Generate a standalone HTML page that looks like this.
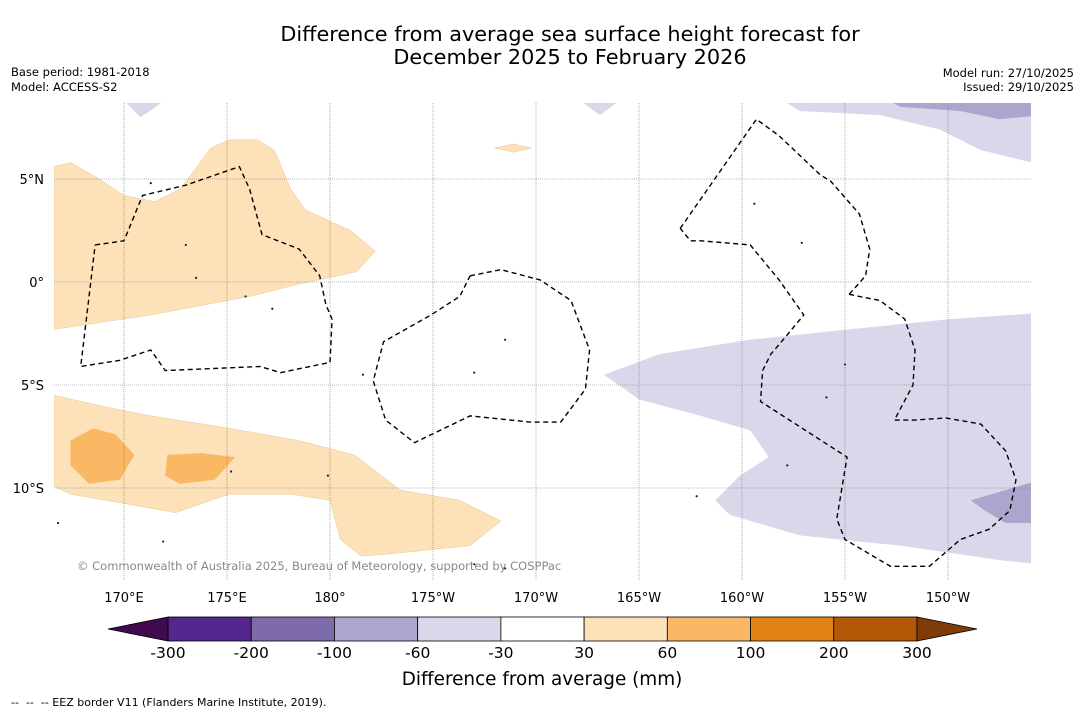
<!DOCTYPE html>
<html><head><meta charset="utf-8"><style>
body{margin:0;background:#fff;font-family:"Liberation Sans","DejaVu Sans",sans-serif;}
svg{display:block}
</style></head><body>
<svg id="chart" width="1085" height="713" viewBox="0 0 1085 713" xmlns="http://www.w3.org/2000/svg" font-family="DejaVu Sans, Liberation Sans, sans-serif">
<text x="570" y="41" font-size="20.8" text-anchor="middle">Difference from average sea surface height forecast for</text>
<text x="570" y="64" font-size="20.8" text-anchor="middle">December 2025 to February 2026</text>
<text x="11" y="76" font-size="11.5">Base period: 1981-2018</text>
<text x="11" y="91" font-size="11.5">Model: ACCESS-S2</text>
<text x="1074" y="77" font-size="11.5" text-anchor="end">Model run: 27/10/2025</text>
<text x="1074" y="91" font-size="11.5" text-anchor="end">Issued: 29/10/2025</text>
<defs><clipPath id="mapclip"><rect x="54" y="103" width="977" height="477"/></clipPath></defs>
<g id="map" clip-path="url(#mapclip)"></g>
<g id="grid"></g>
<g id="eez" clip-path="url(#mapclip)"></g>
<text x="77" y="570" font-size="11.5" fill="#888">© Commonwealth of Australia 2025, Bureau of Meteorology, supported by COSPPac</text>
<g id="cbar"></g>
<text x="542" y="685" font-size="18.4" text-anchor="middle">Difference from average (mm)</text>
<text x="11" y="706" font-size="11" xml:space="preserve" style="white-space:pre">--  --  -- EEZ border V11 (Flanders Marine Institute, 2019).</text>
</svg>
<script>
const lonTicks=[170,175,180,185,190,195,200,205,210];
const lonLabels=["170°E","175°E","180°","175°W","170°W","165°W","160°W","155°W","150°W"];
const latTicks=[5,0,-5,-10];
const latLabels=["5°N","0°","5°S","10°S"];
const cbarTicks=["-300","-200","-100","-60","-30","30","60","100","200","300"];
const cbarColors=["#54278f","#7d6ca9","#aca6cf","#d8d8ea","#ffffff","#fde1b8","#fbb864","#e08214","#b35806"];
const cbarExt=["#3f0a4e","#7f3b08"];
const anomalyRegions=[
 ["#fde1b8",[[166.6,5.6],[167.4,5.8],[168.8,5.0],[170.0,4.2],[171.5,3.9],[172.7,4.5],[173.4,5.4],[174.2,6.5],[175.1,6.9],[176.5,6.9],[177.3,6.4],[178.1,4.5],[178.8,3.5],[181.0,2.5],[182.2,1.5],[181.3,0.5],[178.5,-0.1],[176.1,-0.7],[171.3,-1.6],[166.6,-2.3]]],
 ["#fde1b8",[[188.0,6.5],[188.9,6.7],[189.8,6.5],[188.9,6.3]]],
 ["#fde1b8",[[166.6,-5.5],[168.8,-6.0],[171.3,-6.5],[175.1,-7.1],[178.5,-7.7],[181.2,-8.4],[183.4,-10.1],[186.3,-10.6],[188.3,-11.6],[186.8,-12.8],[182.9,-13.2],[181.5,-13.3],[180.5,-12.5],[180.0,-10.6],[178.1,-10.3],[175.1,-10.3],[172.5,-11.2],[170.3,-10.8],[167.4,-10.3],[166.6,-9.9]]],
 ["#fbb864",[[167.4,-7.7],[168.5,-7.1],[169.6,-7.4],[170.5,-8.4],[169.8,-9.6],[168.3,-9.8],[167.4,-8.9]]],
 ["#fbb864",[[172.1,-8.4],[173.7,-8.3],[175.4,-8.5],[174.4,-9.6],[172.7,-9.8],[172.0,-9.4]]],
 ["#d8d8ea",[[193.3,-4.5],[196.0,-3.5],[200.4,-2.8],[205.2,-2.3],[210.1,-1.8],[214.5,-1.5],[214.5,-13.7],[212.5,-13.5],[207.7,-12.8],[202.8,-12.3],[199.4,-11.3],[198.7,-10.6],[199.9,-9.4],[201.3,-8.5],[200.4,-7.2],[198.0,-6.5],[195.0,-5.7]]],
 ["#aca6cf",[[211.1,-10.6],[214.5,-9.6],[214.5,-11.7],[212.8,-11.7],[211.8,-11.1]]],
 ["#d8d8ea",[[200.9,9.5],[214.5,9.5],[214.5,5.7],[211.6,6.4],[209.6,7.4],[206.7,8.1],[202.8,8.3]]],
 ["#aca6cf",[[205.7,9.5],[214.5,9.5],[214.5,8.1],[212.5,7.9],[210.6,8.3],[207.7,8.5]]],
 ["#d8d8ea",[[191.2,9.5],[195.0,9.5],[193.1,8.1]]],
 ["#d8d8ea",[[169.3,9.5],[173.0,9.5],[170.8,8.0]]],
 ["#d8d8ea",[[204.0,-10.5],[206.0,-10.5],[205.0,-10.7]]]
];
const eezLines=[
 [[168.6,1.8],[170.0,2.0],[170.9,4.2],[173.0,4.7],[175.6,5.6],[176.1,4.5],[176.7,2.3],[178.5,1.6],[179.5,0.3],[179.8,-1.1],[180.1,-1.8],[180.0,-3.9],[177.6,-4.4],[176.6,-4.1],[172.0,-4.3],[171.3,-3.3],[169.8,-3.8],[167.9,-4.1],[168.6,1.8]],
 [[186.8,0.3],[188.3,0.6],[190.2,0.1],[191.7,-0.9],[192.6,-3.3],[192.4,-5.2],[191.2,-6.8],[189.7,-6.8],[186.8,-6.5],[184.1,-7.8],[182.7,-6.7],[182.1,-4.8],[182.6,-2.9],[184.9,-1.6],[186.3,-0.7],[186.8,0.3]],
 [[197.0,2.6],[200.7,7.9],[201.8,7.1],[203.8,5.2],[204.3,4.9],[205.7,3.3],[206.2,1.6],[206.0,0.3],[205.2,-0.6]],
 [[205.2,-0.6],[206.7,-0.9],[207.9,-1.8],[208.4,-3.3],[208.3,-5.0],[207.4,-6.7],[208.4,-6.7],[209.9,-6.6],[211.6,-6.9],[212.8,-8.2],[213.3,-9.6],[213.0,-11.1],[212.0,-12.0],[210.6,-12.5],[209.1,-13.8],[207.2,-13.8],[205.0,-12.5],[204.6,-11.5],[205.1,-8.5],[200.9,-5.8],[201.0,-4.3],[201.4,-3.5],[202.0,-2.8],[203.0,-1.6],[201.8,0.1],[200.4,1.8],[198.0,2.0],[197.5,2.0],[197.0,2.6]]
];
const islands=[[171.3,4.8],[173.0,1.8],[173.5,0.2],[175.9,-0.7],[177.2,-1.3],[181.6,-4.5],[188.5,-2.8],[187.0,-4.4],[175.2,-9.2],[179.9,-9.4],[187.0,-13.7],[188.5,-13.9],[200.6,3.8],[202.9,1.9],[204.1,-5.6],[205.0,-4.0],[202.2,-8.9],[197.8,-10.4],[166.8,-11.7],[171.9,-12.6]];
const NS="http://www.w3.org/2000/svg";
const X=lon=>124+(lon-170)*20.6, Y=lat=>282-lat*20.6;
function mk(tag,attrs,parent){const e=document.createElementNS(NS,tag);for(const k in attrs)e.setAttribute(k,attrs[k]);parent.appendChild(e);return e;}
const map=document.getElementById('map'),grid=document.getElementById('grid'),eez=document.getElementById('eez'),cb=document.getElementById('cbar');
anomalyRegions.forEach(r=>{const p=mk('polygon',{points:r[1].map(q=>X(q[0])+','+Y(q[1])).join(' '),fill:r[0],stroke:r[0]=="#fde1b8"?"#e8c79a":"none","stroke-width":0.5},map);

});
islands.forEach(q=>{const c=mk('circle',{cx:X(q[0]),cy:Y(q[1]),r:1.1,fill:'#222'},map);

});
lonTicks.forEach((l,i)=>{const g=mk('line',{x1:X(l),x2:X(l),y1:103,y2:580,stroke:'#777','stroke-width':0.6,'stroke-dasharray':'1,1'},grid);


const t=mk('text',{x:X(l),y:602,'font-size':13,'text-anchor':'middle'},grid);t.textContent=lonLabels[i];

});
latTicks.forEach((l,i)=>{const g=mk('line',{x1:54,x2:1031,y1:Y(l),y2:Y(l),stroke:'#777','stroke-width':0.6,'stroke-dasharray':'1,1'},grid);


const t=mk('text',{x:44,y:Y(l)+5,'font-size':13,'text-anchor':'end'},grid);t.textContent=latLabels[i];

});
eezLines.forEach(l=>{const p=mk('polyline',{points:l.map(q=>X(q[0])+','+Y(q[1])).join(' '),fill:'none',stroke:'#000','stroke-width':1.4,'stroke-dasharray':'5,3.5'},eez);

});
const cx0=168,cx1=917,cy=617,ch=24,sw=(cx1-cx0)/cbarColors.length;
cbarColors.forEach((c,i)=>{const r=mk('rect',{x:cx0+i*sw,y:cy,width:sw,height:ch,fill:c,stroke:'#000','stroke-width':0.8},cb);

});
const e1=mk('polygon',{points:`${cx0},${cy} 108,${cy+ch/2} ${cx0},${cy+ch}`,fill:cbarExt[0],stroke:'#000','stroke-width':0.8},cb);


const e2=mk('polygon',{points:`${cx1},${cy} 977,${cy+ch/2} ${cx1},${cy+ch}`,fill:cbarExt[1],stroke:'#000','stroke-width':0.8},cb);


cbarTicks.forEach((t,i)=>{const e=mk('text',{x:cx0+i*sw,y:658,'font-size':15.5,'text-anchor':'middle'},cb);e.textContent=t;

});
</script>
</body></html>
